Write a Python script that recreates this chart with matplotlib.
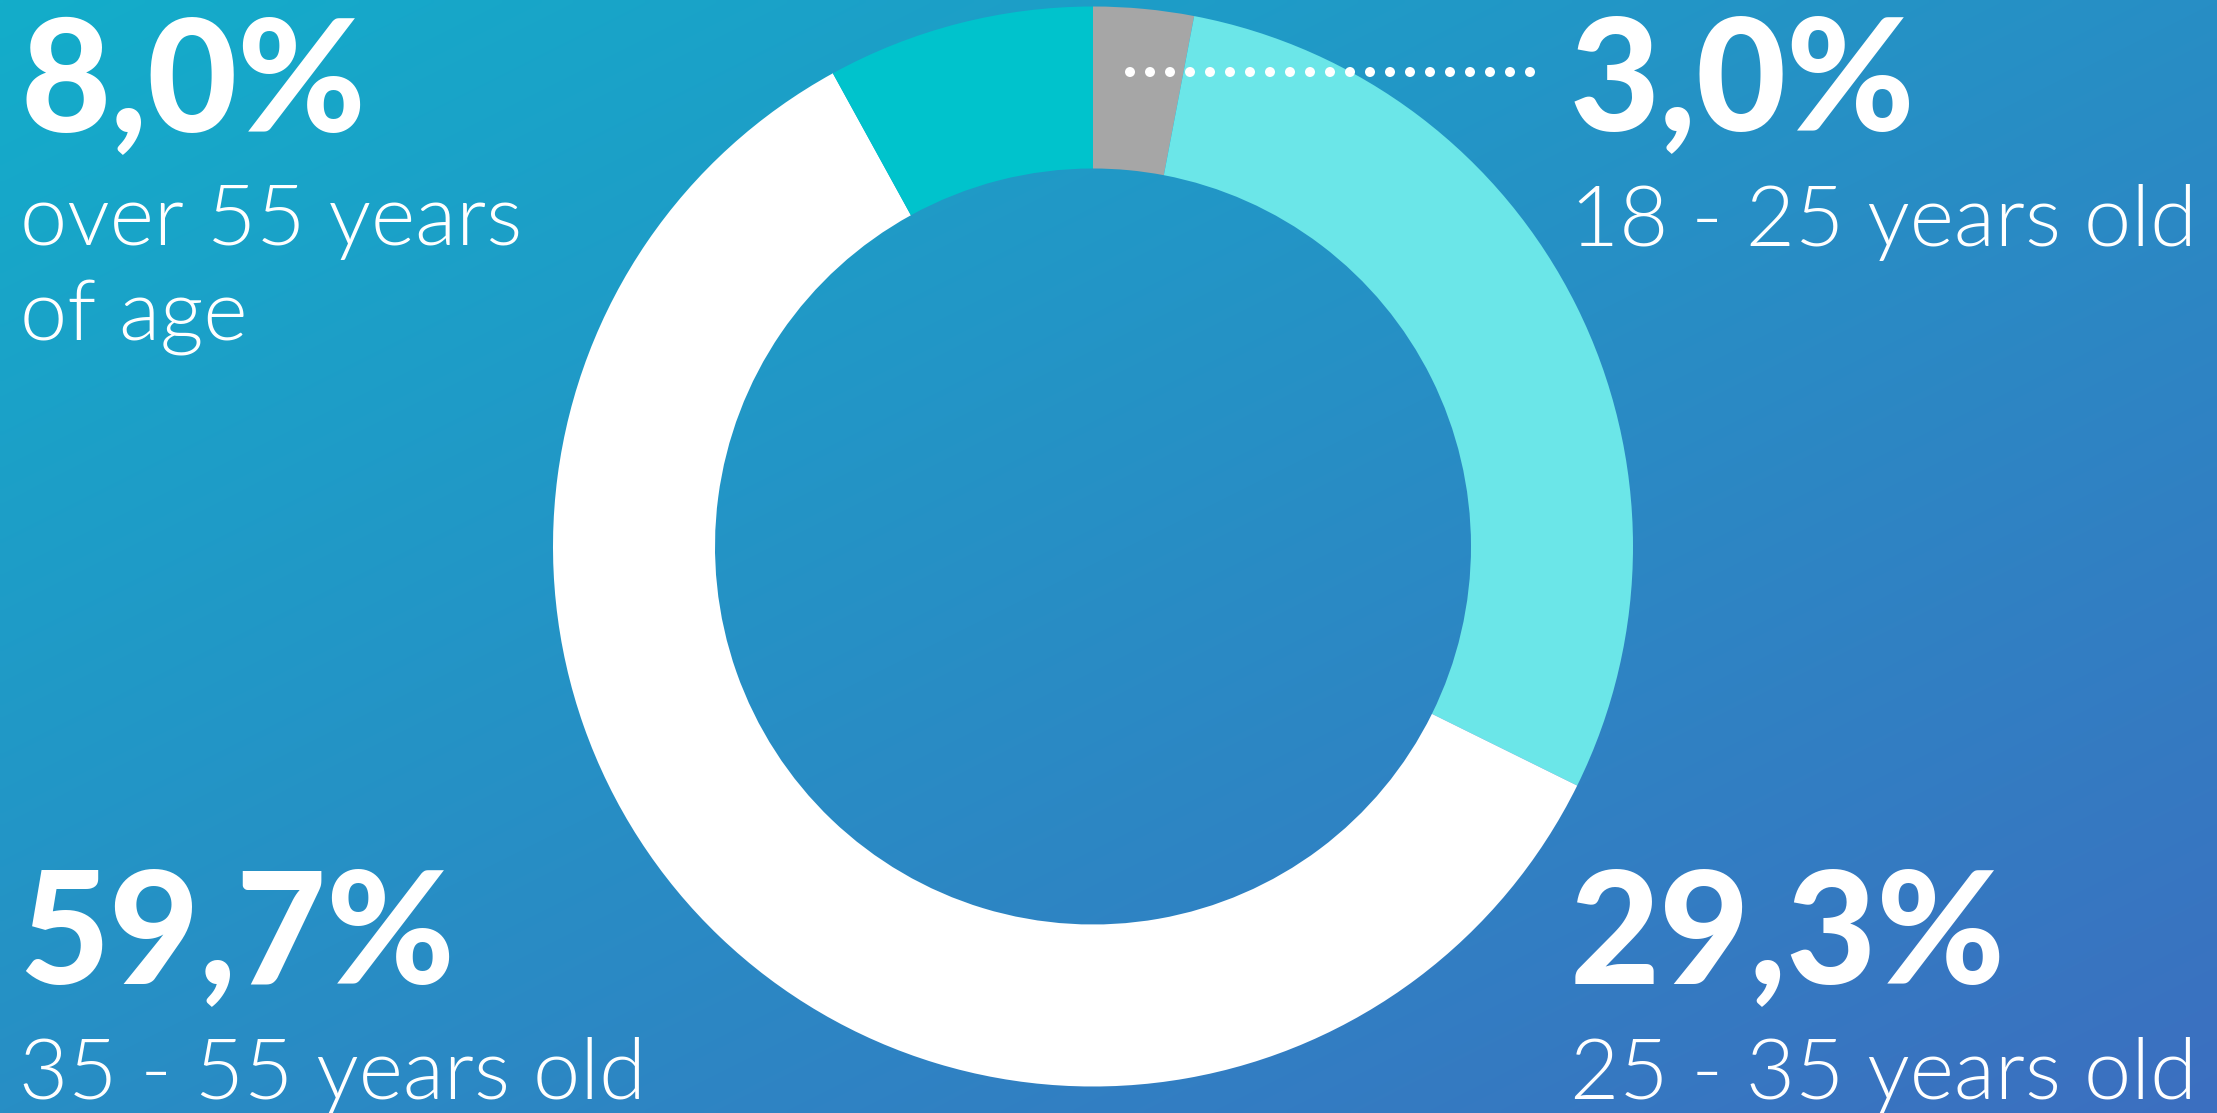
import numpy as np
import matplotlib
matplotlib.use("Agg")
import matplotlib.pyplot as plt
from matplotlib.colors import to_rgb

# age groups, clockwise from the top of the ring
groups = ["18 - 25 years old", "25 - 35 years old", "35 - 55 years old", "over 55 years\nof age"]
shares = [3.0, 29.3, 59.7, 8.0]
ring_colors = ["#a6a6a6", "#6be6e8", "#ffffff", "#00c3cc"]

W, H = 2217, 1113
BG_START, BG_END = "#13adca", "#3c6fc0"

fig = plt.figure(figsize=(W / 100, H / 100), dpi=100)
ax = fig.add_axes([0, 0, 1, 1])

# diagonal background gradient, light cyan top-left to blue bottom-right
xx, yy = np.meshgrid(np.linspace(0, 1, 400), np.linspace(0, 1, 200))
t = (xx + yy) / 2
c0, c1 = np.array(to_rgb(BG_START)), np.array(to_rgb(BG_END))
grad = c0[None, None, :] * (1 - t[..., None]) + c1[None, None, :] * t[..., None]
ax.imshow(grad, extent=(0, W, 0, H), origin="upper", aspect="auto", zorder=0,
          interpolation="bilinear")

# ring
cx, cy = 1093, 546.5
ax.pie(shares, colors=ring_colors, startangle=90, counterclock=False,
       center=(cx, H - cy), radius=540,
       wedgeprops=dict(width=162, edgecolor="none", linewidth=0, zorder=2))

# dotted leader line to the smallest slice
dots_x = np.arange(1130, 1531, 20)
ax.scatter(dots_x, np.full(len(dots_x), H - 72), s=7.2 ** 2, color="white",
           edgecolors="none", zorder=5)

ax.set_xlim(0, W)
ax.set_ylim(0, H)
ax.set_aspect("equal")
ax.axis("off")

BIG = dict(family=["Lato", "DejaVu Sans"], weight=900, size=112, color="white")
SMALL = dict(family=["Lato", "DejaVu Sans"], weight=300, size=61, color="white")


def fmt(v):
    return f"{v:.1f}".replace(".", ",") + "%"


# (x, value baseline, label baseline) in pixels from the top-left corner
anchors = [(1570, 130, 246), (1570, 983, 1099), (19, 983, 1099), (20, 132, 245)]
for (x, yb, yl), v, lab in zip(anchors, shares, groups):
    ax.text(x, H - yb, fmt(v), ha="left", va="baseline", zorder=6, **BIG)
    for i, line in enumerate(lab.split("\n")):
        ax.text(x, H - yl - i * 96, line, ha="left", va="baseline", zorder=6, **SMALL)

fig.savefig("out.png", dpi=100)
